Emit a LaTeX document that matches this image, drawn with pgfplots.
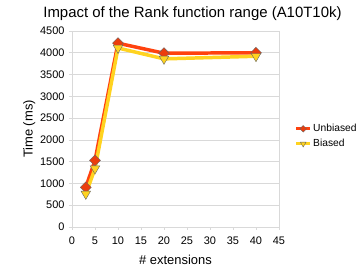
\documentclass[border=0pt]{standalone}
\usepackage{pgfplots}
\pgfplotsset{compat=1.18}
\usepackage{fontspec}
\setmainfont{Liberation Sans}
\definecolor{unb}{HTML}{FF420E}
\definecolor{bia}{HTML}{FFD320}
\definecolor{gridc}{HTML}{D9D9D9}
\begin{document}
\begin{tikzpicture}[x=1bp,y=1bp]
\useasboundingbox (-72bp,-49bp) rectangle (287bp,227bp);
\begin{axis}[
  at={(0,0)}, anchor=south west,
  scale only axis, width=207bp, height=196bp,
  xmin=0, xmax=45, ymin=0, ymax=4500,
  xtick={0,5,...,45}, ytick={0,500,...,4500},
  /pgf/number format/assume math mode=true,
  /pgf/number format/1000 sep={},
  tick label style={font=\fontsize{11}{12}\selectfont},
  xticklabel style={yshift=-3bp},
  yticklabel style={xshift=-1bp},
  ymajorgrids, grid style={gridc, line width=0.6pt},
  axis line style={gridc, line width=0.6pt},
  tick style={gridc, line width=0.6pt},
  tick align=outside, major tick length=3bp,
  xtick pos=bottom, ytick pos=left,
  xlabel={\# extensions}, ylabel={Time (ms)},
  label style={font=\fontsize{13}{14}\selectfont},
  xlabel style={yshift=-4bp},
  ylabel style={yshift=-2bp},
  title={Impact of the Rank function range (A10T10k)},
  title style={font=\fontsize{15}{16}\selectfont, yshift=1bp, xshift=17bp},
  legend style={at={(1.075,0.535)}, anchor=north west, draw=none, fill=none,
    font=\fontsize{10.3}{12}\selectfont, row sep=2pt,
    inner sep=0pt, nodes={inner xsep=1.5bp}},
  legend cell align=left,
  legend image code/.code={%
    \draw[mark repeat=2, mark phase=2, line width=3pt,
      every mark/.append style={scale=0.6}]
      plot coordinates {(0bp,0bp) (7bp,0bp) (14bp,0bp)};},
  clip=false,
]
\addplot[color=unb, line width=3.5pt, mark=diamond*, mark size=5.5bp,
  mark options={xscale=1.33, fill=unb!92!black, draw=black!60, line width=0.4pt}]
  coordinates {(3,910) (5,1530) (10,4220) (20,3990) (40,4000)};
\addlegendentry{Unbiased}
\addplot[color=bia, line width=3.5pt, mark=triangle*, mark size=5.5bp,
  mark options={fill=bia, draw=black!60, line width=0.4pt, rotate=180}]
  coordinates {(3,760) (5,1340) (10,4110) (20,3860) (40,3920)};
\addlegendentry{Biased}
\end{axis}
\end{tikzpicture}
\end{document}
